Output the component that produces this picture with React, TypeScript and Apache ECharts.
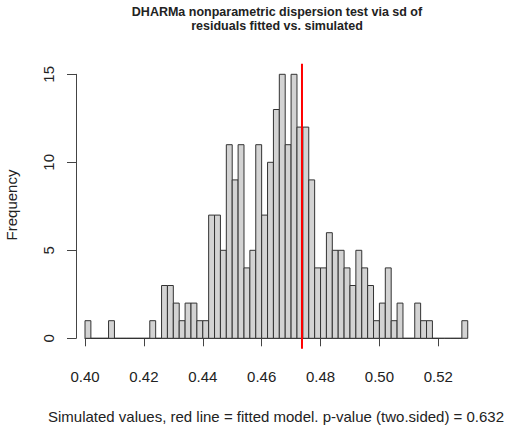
import React, { useEffect, useRef } from "react";
import * as echarts from "echarts";

// Histogram of simulated dispersion statistic (bin width 0.002 starting at 0.400)
const binStart = 0.4;
const binWidth = 0.002;
const counts = [
  1, 0, 0, 0, 1, 0, 0, 0, 0, 0, 0, 1, 0, 3, 3, 2, 1, 2, 2, 1,
  1, 7, 7, 5, 11, 9, 11, 4, 5, 11, 7, 10, 13, 15, 11, 15, 12, 12, 9, 4,
  4, 6, 5, 5, 4, 3, 5, 4, 3, 1, 2, 4, 1, 2, 0, 0, 2, 1, 1, 0,
  0, 0, 0, 0, 1,
];
const observed = 0.4737;
const xTicks = [0.4, 0.42, 0.44, 0.46, 0.48, 0.5, 0.52];
const yTicks = [0, 5, 10, 15];
const titleLines = [
  "DHARMa nonparametric dispersion test via sd of",
  "residuals fitted vs. simulated",
];
const xTitle = "Simulated values, red line = fitted model. p-value (two.sided) = 0.632";
const yTitle = "Frequency";

const FONT = "'Liberation Sans', Arial, Helvetica, sans-serif";

export default function App() {
  const ref = useRef<HTMLDivElement>(null);
  useEffect(() => {
    if (!ref.current) return;
    const chart = echarts.init(ref.current, undefined, { renderer: "svg" });
    const histData = counts.map((c, i) => {
      const lo = +(binStart + i * binWidth).toFixed(3);
      const hi = +(binStart + (i + 1) * binWidth).toFixed(3);
      return [lo, hi, c];
    });
    const yPad = (yTicks[yTicks.length - 1] - yTicks[0]) * 0.04;
    chart.setOption({
      animation: false,
      backgroundColor: "#ffffff",
      textStyle: { fontFamily: FONT },
      grid: { left: 85, right: 75.7, top: 74.3, bottom: 91.7, containLabel: false },
      xAxis: {
        type: "value",
        min: xTicks[0],
        max: xTicks[xTicks.length - 1],
        interval: 0.02,
        offset: 11,
        axisLine: { show: true, lineStyle: { color: "#444", width: 1 } },
        axisTick: { show: true, length: 8, lineStyle: { color: "#444", width: 1 } },
        axisLabel: {
          show: true,
          margin: 20,
          fontSize: 15,
          color: "#222",
          fontFamily: FONT,
          formatter: (v: number) => v.toFixed(2),
        },
        splitLine: { show: false },
      },
      yAxis: {
        type: "value",
        min: yTicks[0],
        max: yTicks[yTicks.length - 1],
        interval: 5,
        offset: 9,
        axisLine: { show: true, lineStyle: { color: "#444", width: 1 } },
        axisTick: { show: true, length: 9, lineStyle: { color: "#444", width: 1 } },
        axisLabel: {
          show: true,
          rotate: 90,
          margin: 20,
          fontSize: 15,
          color: "#222",
          fontFamily: FONT,
        },
        splitLine: { show: false },
      },
      graphic: [
        {
          type: "text",
          x: 277,
          y: 12,
          style: {
            text: titleLines[0],
            align: "center",
            verticalAlign: "middle",
            fontFamily: FONT,
            fontWeight: "bold",
            fontSize: 12.5,
            fill: "#222",
          },
        },
        {
          type: "text",
          x: 277,
          y: 25.5,
          style: {
            text: titleLines[1],
            align: "center",
            verticalAlign: "middle",
            fontFamily: FONT,
            fontWeight: "bold",
            fontSize: 12.5,
            fill: "#222",
          },
        },
        {
          type: "text",
          x: 276,
          y: 416,
          style: {
            text: xTitle,
            align: "center",
            verticalAlign: "middle",
            fontFamily: FONT,
            fontSize: 15,
            fill: "#222",
          },
        },
        {
          type: "text",
          x: 11,
          y: 205,
          rotation: Math.PI / 2,
          style: {
            text: yTitle,
            align: "center",
            verticalAlign: "middle",
            fontFamily: FONT,
            fontSize: 15,
            fill: "#222",
          },
        },
      ],
      series: [
        {
          type: "custom",
          clip: false,
          data: histData,
          encode: { x: [0, 1], y: 2 },
          renderItem: (params: any, api: any) => {
            const p0 = api.coord([api.value(0), 0]);
            const p1 = api.coord([api.value(1), api.value(2)]);
            return {
              type: "rect",
              shape: {
                x: p0[0],
                y: p1[1],
                width: p1[0] - p0[0],
                height: p0[1] - p1[1],
              },
              style: { fill: "#D3D3D3", stroke: "#333", lineWidth: 1 },
            };
          },
        },
        {
          type: "custom",
          clip: false,
          data: [[observed]],
          encode: { x: 0 },
          renderItem: (params: any, api: any) => {
            const x = api.value(0);
            const top = api.coord([x, yTicks[yTicks.length - 1] + yPad]);
            const bot = api.coord([x, yTicks[0] - yPad]);
            return {
              type: "line",
              shape: { x1: top[0], y1: top[1], x2: bot[0], y2: bot[1] },
              style: { stroke: "#FF0000", lineWidth: 2 },
            };
          },
        },
      ],
    });
    return () => chart.dispose();
  }, []);
  return (
    <div
      ref={ref}
      style={{ position: "fixed", left: 0, top: 0, width: 514, height: 430 }}
    />
  );
}
